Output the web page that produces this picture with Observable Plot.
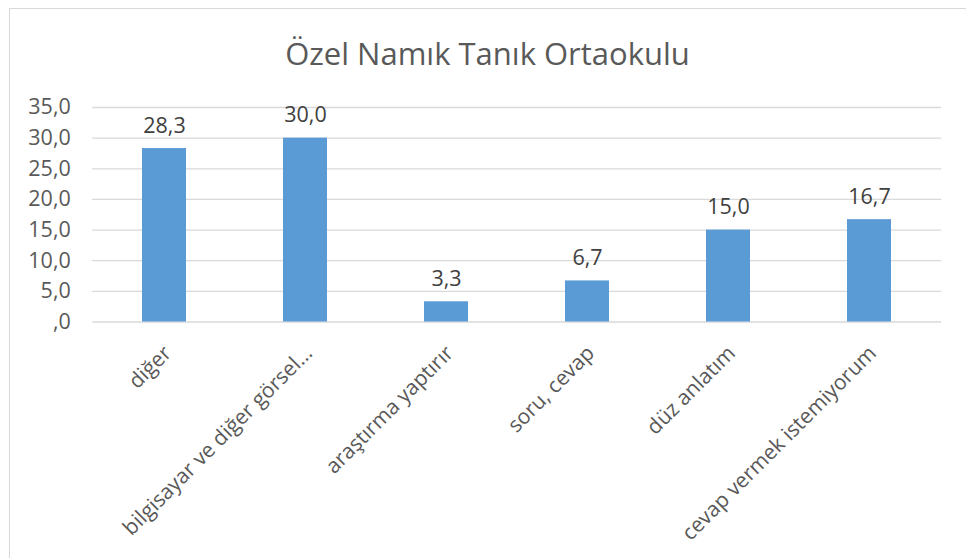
<!DOCTYPE html>
<html><head><meta charset="utf-8">
<script src="https://cdn.jsdelivr.net/npm/d3@7"></script>
<script src="https://cdn.jsdelivr.net/npm/@observablehq/plot@0.6"></script>
<style>
body{margin:0;background:#fff;font-family:"Open Sans",sans-serif;}
#wrap{position:relative;width:966px;height:558px;overflow:hidden;background:#fff;}
#frame{position:absolute;left:9px;top:8px;width:1000px;height:600px;border:1.5px solid #d9d9d9;box-sizing:border-box;}
#title{position:absolute;top:37.5px;left:487.5px;transform:translateX(-50%);font-size:31px;line-height:31px;color:#595959;white-space:nowrap;}
#chart{position:absolute;left:0;top:90px;}
</style></head><body>
<div id="wrap"><div id="frame"></div><div id="title">Özel Namık Tanık Ortaokulu</div><div id="chart"></div></div>
<script>
const categories = ["diğer", "bilgisayar ve diğer görsel…", "araştırma yaptırır", "soru, cevap", "düz anlatım", "cevap vermek istemiyorum"];
const values = [28.3, 30.0, 3.3, 6.7, 15.0, 16.7];
const valueLabels = ["28,3", "30,0", "3,3", "6,7", "15,0", "16,7"];
const yTicks = [0, 5, 10, 15, 20, 25, 30, 35];
const yTickLabels = [",0", "5,0", "10,0", "15,0", "20,0", "25,0", "30,0", "35,0"];

const data = categories.map((c, i) => ({category: c, value: values[i], label: valueLabels[i]}));

const plot = Plot.plot({
  width: 966,
  height: 468,
  marginLeft: 92.25,
  marginRight: 24.9,
  marginTop: 17,
  marginBottom: 236.5,
  style: {fontFamily: '"Open Sans", sans-serif', fontSize: "21px", color: "#595959", background: "transparent", overflow: "visible"},
  x: {domain: categories, paddingInner: 0.685, paddingOuter: 0.3425, axis: null},
  y: {domain: [0, 35], axis: null},
  marks: [
    Plot.ruleY(yTicks, {stroke: "#d9d9d9", strokeWidth: 1.3}),
    Plot.axisY({ticks: yTicks, tickFormat: d => yTickLabels[yTicks.indexOf(d)], tickSize: 0, tickPadding: 22, fontSize: 21.5, fill: "#595959", label: null}),
    Plot.barY(data, {x: "category", y: "value", fill: "#5B9BD5"}),
    Plot.text(data, {x: "category", y: "value", text: "label", lineAnchor: "bottom", dy: -16, fill: "#404040", fontSize: 21.5}),
    Plot.text(data, {x: "category", frameAnchor: "bottom", text: "category", rotate: -45, textAnchor: "end", lineAnchor: "bottom", dx: 8, dy: 32.5, fill: "#595959", fontSize: 21})
  ]
});
document.getElementById("chart").appendChild(plot);
</script>
</body></html>
